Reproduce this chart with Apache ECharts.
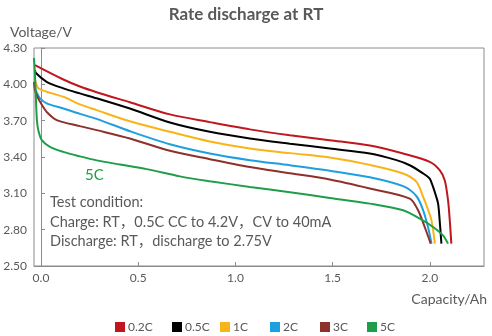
<!DOCTYPE html>
<html>
<head>
<meta charset="utf-8">
<script src="https://cdn.jsdelivr.net/npm/echarts@6/dist/echarts.min.js"></script>
<style>html,body{margin:0;padding:0;background:#fff}#c{width:492px;height:336px}</style>
</head>
<body>
<div id="c"></div>
<script>
const seriesNames = ['0.2C', '0.5C', '1C', '2C', '3C', '5C'];
const seriesColors = ['#C0161E', '#000000', '#F8B418', '#1E9FDF', '#8E302C', '#1E9E48'];
const xTicks = [0, 0.5, 1.0, 1.5, 2.0];
const yTicks = [2.5, 2.8, 3.1, 3.4, 3.7, 4.0, 4.3];

// [capacity Ah, voltage V]
const c02 = [[-0.031,4.159],[0.115,4.040],[0.200,3.982],[0.286,3.935],[0.457,3.852],[0.663,3.752],[0.868,3.688],[1.074,3.628],[1.280,3.580],[1.485,3.539],[1.691,3.495],[1.862,3.429],[1.999,3.360],[2.050,3.291],[2.076,3.208],[2.093,3.043],[2.102,2.877],[2.110,2.685]];
const c05 = [[-0.031,4.118],[-0.026,4.093],[0.029,4.021],[0.115,3.967],[0.200,3.925],[0.286,3.885],[0.457,3.800],[0.663,3.685],[0.868,3.608],[1.074,3.553],[1.280,3.510],[1.485,3.470],[1.691,3.429],[1.828,3.374],[1.896,3.332],[1.965,3.264],[1.999,3.222],[2.016,3.153],[2.030,3.084],[2.042,3.015],[2.050,2.877],[2.059,2.685]];
const c1 = [[-0.031,4.035],[-0.026,4.010],[-0.014,3.967],[0.029,3.939],[0.115,3.897],[0.200,3.835],[0.286,3.787],[0.457,3.695],[0.663,3.608],[0.868,3.528],[1.074,3.470],[1.280,3.432],[1.485,3.396],[1.691,3.335],[1.862,3.264],[1.931,3.194],[1.965,3.070],[1.982,3.001],[2.008,2.877],[2.025,2.685]];
const c2 = [[-0.031,3.969],[-0.021,3.928],[-0.005,3.884],[0.029,3.843],[0.115,3.801],[0.200,3.756],[0.286,3.715],[0.457,3.613],[0.663,3.505],[0.868,3.429],[1.074,3.374],[1.280,3.332],[1.485,3.287],[1.691,3.233],[1.862,3.159],[1.931,3.076],[1.965,2.960],[1.990,2.822],[2.008,2.685]];
const c3 = [[-0.036,4.019],[-0.031,3.953],[-0.015,3.886],[0.005,3.829],[0.029,3.773],[0.081,3.704],[0.200,3.655],[0.286,3.622],[0.457,3.553],[0.663,3.451],[0.868,3.382],[1.074,3.318],[1.280,3.266],[1.485,3.214],[1.691,3.140],[1.896,3.057],[1.939,2.960],[1.973,2.822],[2.004,2.685]];
const c5 = [[-0.036,4.217],[-0.031,4.077],[-0.026,3.870],[-0.021,3.704],[-0.014,3.622],[0.004,3.539],[0.046,3.484],[0.115,3.442],[0.200,3.405],[0.286,3.372],[0.406,3.338],[0.543,3.300],[0.714,3.240],[0.868,3.200],[1.074,3.153],[1.280,3.109],[1.485,3.062],[1.691,3.015],[1.862,2.960],[1.948,2.891],[2.016,2.822],[2.067,2.753],[2.093,2.685]];
const seriesData = [c02, c05, c1, c2, c3, c5];

const noteLines = ['Test condition:', 'Charge: RT，0.5C CC to 4.2V，CV to 40mA', 'Discharge: RT，discharge to 2.75V'];

const FONT = 'Lato, "Noto Sans CJK SC", sans-serif';
const GRAY = '#595959';
const AXIS = '#8c8c8c';

const chart = echarts.init(document.getElementById('c'), null, {renderer: 'canvas'});
const legendLefts = [115, 172, 220, 270, 320, 367];

chart.setOption({
  animation: false,
  title: {
    text: 'Rate discharge at RT', left: 'center', top: 1,
    textStyle: {fontFamily: FONT, fontSize: 17, fontWeight: 'bold', color: GRAY}
  },
  legend: seriesNames.map((n, i) => ({
    data: [n], left: legendLefts[i], top: 321, icon: 'rect', itemWidth: 10, itemHeight: 10,
    padding: 0, itemGap: 0,
    textStyle: {fontFamily: FONT, fontSize: 12, color: GRAY, padding: [0, 0, 0, -2]}
  })),
  grid: {left: 34, right: 8, top: 48, bottom: 70, show: true, borderColor: AXIS, borderWidth: 1},
  xAxis: {
    type: 'value', min: -0.036, max: 2.278,
    name: 'Capacity/Ah', nameLocation: 'end', nameGap: 3,
    nameTextStyle: {fontFamily: FONT, fontSize: 14, color: GRAY, align: 'right', verticalAlign: 'top', padding: [26, 0, 0, 0]},
    axisLine: {lineStyle: {color: AXIS}},
    axisTick: {inside: true, length: 4, lineStyle: {color: AXIS}, customValues: xTicks},
    axisLabel: {customValues: xTicks, fontFamily: FONT, fontSize: 12, color: GRAY, margin: 6, formatter: v => v.toFixed(1)},
    splitLine: {show: false}
  },
  yAxis: {
    type: 'value', min: 2.5, max: 4.3,
    name: 'Voltage/V', nameLocation: 'end', nameGap: 16,
    nameTextStyle: {fontFamily: FONT, fontSize: 14, color: GRAY, align: 'center', verticalAlign: 'middle'},
    axisLine: {show: true, lineStyle: {color: AXIS}},
    axisTick: {show: true, inside: true, length: 4, lineStyle: {color: AXIS}, customValues: yTicks},
    axisLabel: {customValues: yTicks, fontFamily: FONT, fontSize: 12, color: GRAY, margin: 7, padding: [6, 0, 0, 0], formatter: v => v.toFixed(2)},
    splitLine: {show: false}
  },
  graphic: [
    {type: 'text', left: 85, top: 168, style: {text: '5C', fontFamily: FONT, fontSize: 15, fill: '#1E9E48'}},
    ...noteLines.map((t, i) => ({
      type: 'text', left: 50, top: [195, 215, 234][i],
      style: {text: t, fontFamily: FONT, fontSize: 14.5, fill: GRAY}
    }))
  ],
  series: seriesNames.map((n, i) => ({
    name: n, type: 'line', data: seriesData[i], showSymbol: false, smooth: 0.3,
    color: seriesColors[i], lineStyle: {width: 2, color: seriesColors[i]}
  }))
});
</script>
</body>
</html>
